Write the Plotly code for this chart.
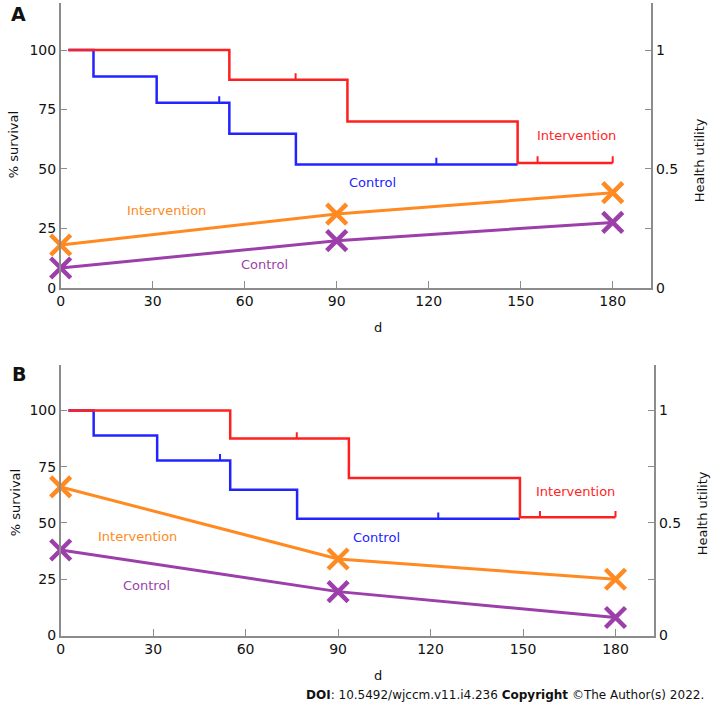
import plotly.graph_objects as go

# ---------------- data ----------------
# Kaplan-Meier survival (% survival), shared by both panels
km_int_t = [2.5, 55, 93.5, 149, 180]
km_int_s = [100, 87.5, 70, 52.5, 52.5]
km_ctl_t = [2.5, 10.7, 31.3, 55, 76.7, 149]
km_ctl_s = [100, 88.9, 77.8, 64.8, 51.9, 51.9]
cens_int_t = [76.6, 155.5, 180]
cens_int_s = [87.5, 52.5, 52.5]
cens_ctl_t = [51.7, 122.5]
cens_ctl_s = [77.8, 51.9]

# Health utility at follow-up days
hu_days = [0, 90, 180]
hu_A_int = [0.18, 0.31, 0.40]
hu_A_ctl = [0.083, 0.198, 0.275]
hu_B_int = [0.66, 0.34, 0.25]
hu_B_ctl = [0.38, 0.195, 0.08]

x_ticks = [0, 30, 60, 90, 120, 150, 180]
y_ticks = [0, 25, 50, 75, 100]
hu_ticks = [0, 0.25, 0.5, 0.75, 1]
hu_ticktext = ["0", "", "0.5", "", "1"]

# ---------------- style ----------------
RED = "#FF1F1F"
BLUE = "#2323FF"
ORANGE = "#FF8A22"
PURPLE = "#9C3FAA"
AXIS = "#8C8C8C"
FONT = "DejaVu Sans"
CENS_H = 2.8

fig = go.Figure()


def censor_xy(ts, ss):
    xs, ys = [], []
    for t, s in zip(ts, ss):
        xs += [t, t, None]
        ys += [s, s + CENS_H, None]
    return xs, ys


panels = [
    ("x", "y", "y2", hu_A_int, hu_A_ctl),
    ("x2", "y3", "y4", hu_B_int, hu_B_ctl),
]
for xa, ya, ya2, hu_i, hu_c in panels:
    fig.add_trace(go.Scatter(x=km_ctl_t, y=km_ctl_s, mode="lines",
                             line=dict(color=BLUE, width=2.5, shape="hv"),
                             xaxis=xa, yaxis=ya, showlegend=False))
    cx, cy = censor_xy(cens_ctl_t, cens_ctl_s)
    fig.add_trace(go.Scatter(x=cx, y=cy, mode="lines",
                             line=dict(color=BLUE, width=2),
                             xaxis=xa, yaxis=ya, showlegend=False))
    fig.add_trace(go.Scatter(x=km_int_t, y=km_int_s, mode="lines",
                             line=dict(color=RED, width=2.5, shape="hv"),
                             xaxis=xa, yaxis=ya, showlegend=False))
    cx, cy = censor_xy(cens_int_t, cens_int_s)
    fig.add_trace(go.Scatter(x=cx, y=cy, mode="lines",
                             line=dict(color=RED, width=2),
                             xaxis=xa, yaxis=ya, showlegend=False))
    fig.add_trace(go.Scatter(x=hu_days, y=hu_i, mode="lines+markers",
                             line=dict(color=ORANGE, width=3),
                             marker=dict(symbol="x-thin", size=20,
                                         line=dict(color=ORANGE, width=4.5)),
                             xaxis=xa, yaxis=ya2, showlegend=False,
                             cliponaxis=False))
    fig.add_trace(go.Scatter(x=hu_days, y=hu_c, mode="lines+markers",
                             line=dict(color=PURPLE, width=3),
                             marker=dict(symbol="x-thin", size=20,
                                         line=dict(color=PURPLE, width=4.5)),
                             xaxis=xa, yaxis=ya2, showlegend=False,
                             cliponaxis=False))

tickfont = dict(family=FONT, size=14, color="#111")
common_x = dict(range=[0, 192.6], tickvals=x_ticks, ticks="inside", ticklen=7,
                tickcolor=AXIS, showline=True, linecolor=AXIS, linewidth=1.5,
                showgrid=False, zeroline=False, tickfont=tickfont)
common_y = dict(range=[0, 120], tickvals=y_ticks, ticks="inside", ticklen=7,
                tickcolor=AXIS, showline=True, linecolor=AXIS, linewidth=1.5,
                showgrid=False, zeroline=False, tickfont=tickfont)
common_y2 = dict(range=[0, 1.2], tickvals=hu_ticks, ticktext=hu_ticktext,
                 ticks="inside", ticklen=7, tickcolor=AXIS, showline=True,
                 linecolor=AXIS, linewidth=1.5, showgrid=False,
                 zeroline=False, tickfont=tickfont, side="right")

fig.update_layout(
    width=713, height=717,
    margin=dict(l=0, r=0, t=0, b=0),
    paper_bgcolor="white", plot_bgcolor="white",
    xaxis=dict(domain=[0.07994, 0.91304], anchor="y", **common_x),
    yaxis=dict(domain=[0.59414, 0.99637], anchor="x", **common_y),
    yaxis2=dict(overlaying="y", anchor="x", **common_y2),
    xaxis2=dict(domain=[0.07994, 0.91725], anchor="y3", **common_x),
    yaxis3=dict(domain=[0.10363, 0.48466], anchor="x2", **common_y),
    yaxis4=dict(overlaying="y3", anchor="x2", **common_y2),
)

ann = []
# series labels (data coords)
labels = [
    ("x", "y", 168.3, 64, "Intervention", RED),
    ("x", "y", 101.8, 44.1, "Control", BLUE),
    ("x", "y", 34.4, 32.4, "Intervention", ORANGE),
    ("x", "y", 66.5, 9.6, "Control", PURPLE),
    ("x2", "y3", 167.1, 64, "Intervention", RED),
    ("x2", "y3", 102.6, 43.4, "Control", BLUE),
    ("x2", "y3", 24.8, 44.2, "Intervention", ORANGE),
    ("x2", "y3", 27.7, 22.3, "Control", PURPLE),
]
for xr, yr, xx, yy, txt, col in labels:
    ann.append(dict(xref=xr, yref=yr, x=xx, y=yy, text=txt, showarrow=False,
                    font=dict(family=FONT, size=13, color=col)))


def P(px, py, text, size=13, angle=0, bold=False, xanchor="center",
      color="#111"):
    return dict(xref="paper", yref="paper", x=px / 713, y=1 - py / 717,
                text=("<b>%s</b>" % text) if bold else text, showarrow=False,
                textangle=angle, xanchor=xanchor, yanchor="middle",
                font=dict(family=FONT, size=size, color=color))


ann += [
    P(9, 146, "% survival", angle=-90),
    P(699, 162, "Health utility", angle=-90),
    P(376, 331, "d"),
    P(11, 508, "% survival", angle=-90),
    P(702, 519, "Health utility", angle=-90),
    P(376, 683, "d"),
    P(15, 14, "A", size=19, bold=True),
    P(15, 378, "B", size=19, bold=True),
    P(706, 703, "<b>DOI</b>: 10.5492/wjccm.v11.i4.236 <b>Copyright</b> ©The Author(s) 2022.",
      size=12, xanchor="right"),
]
fig.update_layout(annotations=ann)

fig.write_html("out.html",
               config={"displayModeBar": False},
               post_script="document.body.style.margin='0';"
                           "document.body.style.overflow='hidden';")
